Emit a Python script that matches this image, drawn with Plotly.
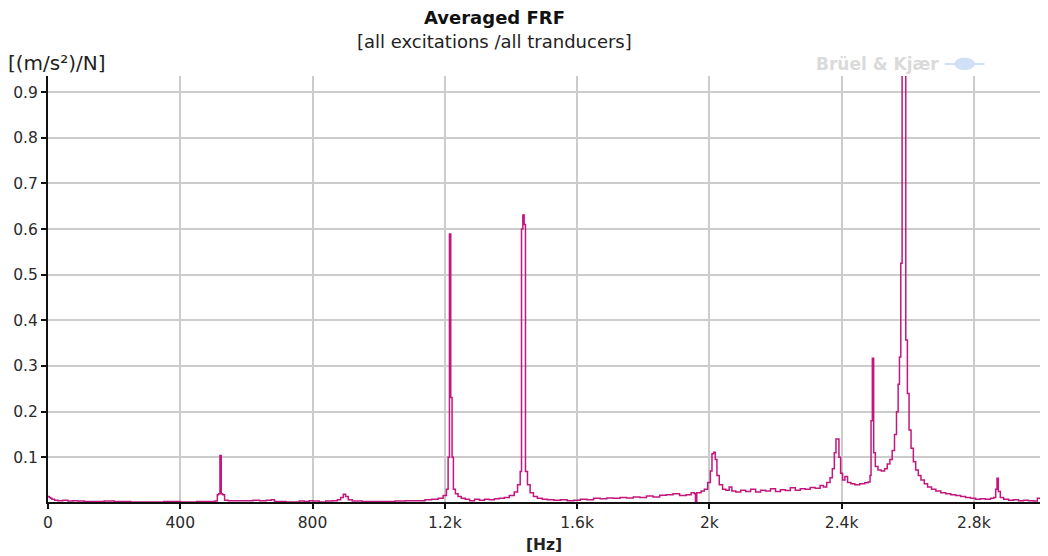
import plotly.graph_objects as go

# Frequency (Hz) and averaged FRF magnitude ((m/s²)/N)
freq_hz = [
    0, 4, 8, 12, 20, 30, 45, 60, 75, 90, 110, 140, 170, 200, 250, 300, 350, 400, 450, 490,
    505, 512, 516, 520, 524, 528, 534, 545, 560, 580, 600, 620, 640, 660, 675, 685, 720, 760,
    775, 790, 800, 820, 840, 860, 875, 885, 893, 900, 908, 920, 950, 1000, 1050, 1080, 1110,
    1140, 1160, 1180, 1195, 1205, 1210, 1214, 1218, 1222, 1226, 1232, 1240, 1250, 1262, 1275,
    1290, 1305, 1320, 1335, 1350, 1365, 1380, 1395, 1410, 1420, 1428, 1432, 1436, 1440, 1444,
    1450, 1458, 1468, 1480, 1495, 1510, 1530, 1550, 1570, 1590, 1610, 1630, 1650, 1670, 1690,
    1710, 1730, 1750, 1770, 1790, 1810, 1830, 1850, 1870, 1890, 1910, 1930, 1945, 1955, 1958,
    1962, 1975, 1985, 1995, 2003, 2008, 2013, 2018, 2023, 2030, 2040, 2050, 2060, 2068, 2080,
    2095, 2110, 2125, 2140, 2155, 2170, 2185, 2200, 2215, 2230, 2245, 2260, 2275, 2290, 2305,
    2320, 2335, 2345, 2355, 2365, 2372, 2378, 2383, 2388, 2392, 2397, 2403, 2410, 2418, 2428,
    2440, 2455, 2470, 2480, 2486, 2489, 2493, 2497, 2502, 2510, 2520, 2530, 2538, 2546, 2553,
    2560, 2566, 2571, 2575, 2579, 2583, 2589, 2594, 2599, 2604, 2610, 2617, 2624, 2632, 2640,
    2650, 2660, 2672, 2685, 2700, 2715, 2730, 2745, 2760, 2775, 2790, 2805, 2820, 2835, 2850,
    2860, 2866, 2870, 2874, 2880, 2890, 2905, 2920, 2935, 2950, 2965, 2980, 2992, 3000,
]
frf_amp = [
    0.014, 0.012, 0.010, 0.008, 0.006, 0.005, 0.006, 0.004, 0.005, 0.004, 0.003, 0.003, 0.004,
    0.003, 0.002, 0.002, 0.003, 0.002, 0.003, 0.003,
    0.004, 0.018, 0.020, 0.104, 0.020, 0.018, 0.006, 0.005, 0.005, 0.005, 0.005, 0.006, 0.005,
    0.006, 0.007, 0.003, 0.002, 0.004,
    0.003, 0.005, 0.004, 0.002, 0.004, 0.005, 0.007, 0.012, 0.019, 0.014, 0.007, 0.004, 0.003,
    0.003, 0.004, 0.005, 0.005,
    0.007, 0.008, 0.010, 0.016, 0.030, 0.100, 0.589, 0.231, 0.100, 0.030, 0.020, 0.014, 0.010,
    0.008, 0.005,
    0.008, 0.006, 0.008, 0.007, 0.009, 0.010, 0.012, 0.016, 0.024, 0.040, 0.069, 0.600, 0.631,
    0.610, 0.069,
    0.040, 0.022, 0.014, 0.010, 0.008, 0.007, 0.006, 0.007, 0.005, 0.006, 0.008, 0.007, 0.010,
    0.009, 0.011,
    0.010, 0.012, 0.011, 0.013, 0.012, 0.015, 0.013, 0.017, 0.018, 0.020, 0.016, 0.018, 0.022,
    0.020, 0.002,
    0.022, 0.026, 0.030, 0.045, 0.070, 0.108, 0.111, 0.095, 0.060, 0.040, 0.030, 0.028, 0.035,
    0.026, 0.024,
    0.028, 0.025, 0.030, 0.024, 0.028, 0.026, 0.031, 0.025, 0.029, 0.027, 0.033, 0.028, 0.031,
    0.030, 0.034,
    0.032, 0.038, 0.035, 0.045, 0.055, 0.075, 0.110, 0.140, 0.140, 0.100, 0.065, 0.050, 0.058,
    0.045, 0.042,
    0.040, 0.042, 0.044, 0.046, 0.060, 0.180, 0.317, 0.110, 0.080, 0.072, 0.070, 0.075, 0.085,
    0.095, 0.115,
    0.150, 0.200, 0.260, 0.320, 0.525, 1.050, 1.050, 0.357, 0.240, 0.160, 0.120, 0.090, 0.072,
    0.060, 0.050,
    0.042, 0.035, 0.030, 0.026, 0.022, 0.020, 0.018, 0.016, 0.014, 0.012, 0.010, 0.008, 0.009,
    0.008, 0.010,
    0.012, 0.030, 0.054, 0.025, 0.012, 0.008, 0.006, 0.007, 0.005, 0.006, 0.005, 0.004, 0.010,
    0.008,
]

x_tick_vals = [0, 400, 800, 1200, 1600, 2000, 2400, 2800]
x_tick_text = ["0", "400", "800", "1.2k", "1.6k", "2k", "2.4k", "2.8k"]
y_tick_vals = [0.1, 0.2, 0.3, 0.4, 0.5, 0.6, 0.7, 0.8, 0.9]
y_tick_text = ["0.1", "0.2", "0.3", "0.4", "0.5", "0.6", "0.7", "0.8", "0.9"]

FONT = "DejaVu Sans"
LINE_COLOR = "#C2187E"

fig = go.Figure()
fig.add_trace(go.Scatter(
    x=freq_hz, y=frf_amp, mode="lines",
    line=dict(color=LINE_COLOR, width=1.5, shape="hv"),
    hoverinfo="x+y", showlegend=False,
))

fig.update_layout(
    width=1048, height=556,
    margin=dict(l=48, r=8, t=76, b=54),
    paper_bgcolor="white", plot_bgcolor="white",
    font=dict(family=FONT, size=15, color="#2A2A2A"),
    xaxis=dict(
        range=[0, 3000], tickvals=x_tick_vals, ticktext=x_tick_text,
        showgrid=True, gridcolor="#CCCCCC", gridwidth=2,
        showline=True, linecolor="#111111", linewidth=2,
        ticks="outside", ticklen=5, tickwidth=2, tickcolor="#111111",
        zeroline=False, tickfont=dict(size=15.5, color="#2A2A2A"),
    ),
    yaxis=dict(
        range=[0.002, 0.9355], tickvals=y_tick_vals, ticktext=y_tick_text,
        showgrid=True, gridcolor="#CCCCCC", gridwidth=2,
        showline=True, linecolor="#111111", linewidth=2,
        ticks="outside", ticklen=5, tickwidth=2, tickcolor="#111111",
        zeroline=False, tickfont=dict(size=15.5, color="#2A2A2A"),
    ),
    annotations=[
        dict(text="<b>Averaged FRF</b>", xref="paper", yref="paper", x=0.45, y=1.138,
             xanchor="center", yanchor="middle", showarrow=False,
             font=dict(family=FONT, size=18, color="#111111")),
        dict(text="[all excitations /all tranducers]", xref="paper", yref="paper", x=0.45, y=1.082,
             xanchor="center", yanchor="middle", showarrow=False,
             font=dict(family=FONT, size=18, color="#222222")),
        dict(text="[(m/s²)/N]", xref="paper", yref="paper", x=-0.0423, y=1.03,
             xanchor="left", yanchor="middle", showarrow=False,
             font=dict(family=FONT, size=20, color="#222222")),
        dict(text="<b>[Hz]</b>", xref="paper", yref="paper", x=0.5, y=-0.101,
             xanchor="center", yanchor="middle", showarrow=False,
             font=dict(family=FONT, size=15.5, color="#222222")),
        dict(text="<b>Brüel &amp; Kjær</b>", xref="paper", yref="paper", x=0.772, y=1.028,
             xanchor="left", yanchor="middle", showarrow=False,
             font=dict(family=FONT, size=17, color="#DADADA")),
    ],
    shapes=[
        dict(type="circle", xref="paper", yref="paper", x0=0.914, x1=0.934, y0=1.015, y1=1.042,
             fillcolor="#CFE0F7", line=dict(color="#CFE0F7", width=1)),
        dict(type="line", xref="paper", yref="paper", x0=0.904, x1=0.944, y0=1.028, y1=1.028,
             line=dict(color="#CFE0F7", width=2)),
    ],
)

fig.write_html("out.html")
